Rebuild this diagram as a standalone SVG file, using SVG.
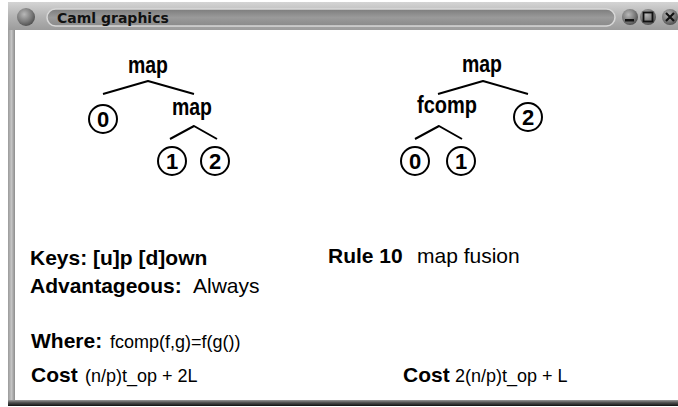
<svg xmlns="http://www.w3.org/2000/svg" width="678" height="407" viewBox="0 0 678 407">
  <style>
    .lbl { font-family: "Liberation Sans", Arial, sans-serif; font-weight: bold; font-size: 24px; fill: #000; text-anchor: middle; }
    .num { font-family: "Liberation Sans", Arial, sans-serif; font-weight: bold; font-size: 22px; fill: #000; text-anchor: middle; }
    .ring { fill: #fff; stroke: #000; stroke-width: 2; }
    .edge { fill: none; stroke: #000; stroke-width: 2; stroke-linejoin: round; }
    .b { font-family: "Liberation Sans", Arial, sans-serif; font-weight: bold; font-size: 21px; fill: #000; }
    .r { font-family: "Liberation Sans", Arial, sans-serif; font-size: 21px; fill: #000; }
    .s { font-family: "Liberation Sans", Arial, sans-serif; font-size: 18px; fill: #000; }
    .title { font-family: "DejaVu Sans", "Liberation Sans", sans-serif; font-weight: bold; font-size: 14px; fill: #111; }
  </style>
  <defs>
    <linearGradient id="barGrad" x1="0" y1="0" x2="0" y2="1">
      <stop offset="0" stop-color="#d4d4d4"/>
      <stop offset="0.5" stop-color="#b4b4b4"/>
      <stop offset="1" stop-color="#9c9c9c"/>
    </linearGradient>
    <linearGradient id="pillGrad" x1="0" y1="0" x2="0" y2="1">
      <stop offset="0" stop-color="#7c7c7c"/>
      <stop offset="0.5" stop-color="#9a9a9a"/>
      <stop offset="1" stop-color="#8a8a8a"/>
    </linearGradient>
    <linearGradient id="sideGrad" x1="0" y1="0" x2="1" y2="0">
      <stop offset="0" stop-color="#9a9a9a"/>
      <stop offset="0.5" stop-color="#c4c4c4"/>
      <stop offset="1" stop-color="#8c8c8c"/>
    </linearGradient>
    <linearGradient id="footGrad" x1="0" y1="0" x2="0" y2="1">
      <stop offset="0" stop-color="#9a9a9a"/>
      <stop offset="0.4" stop-color="#555"/>
      <stop offset="1" stop-color="#111"/>
    </linearGradient>
    <radialGradient id="knob" cx="0.4" cy="0.35" r="0.7">
      <stop offset="0" stop-color="#b8b8b8"/>
      <stop offset="0.6" stop-color="#7a7a7a"/>
      <stop offset="1" stop-color="#4a4a4a"/>
    </radialGradient>
  </defs>

  <!-- window frame -->
  <rect x="0" y="0" width="678" height="407" fill="#fff"/>
  <g id="frame">
    <rect x="8" y="2" width="670" height="28" fill="url(#barGrad)"/>
    <rect x="8" y="30" width="7" height="371" fill="url(#sideGrad)"/>
    <rect x="8" y="400" width="670" height="6" fill="url(#footGrad)"/>
    <circle cx="26" cy="17" r="9" fill="url(#knob)"/>
    <rect x="47" y="9" width="568" height="17" rx="8.5" fill="url(#pillGrad)" stroke="#d8d8d8" stroke-width="1.5"/>
    <text class="title" x="57" y="23">Caml graphics</text>
    <circle cx="630" cy="17" r="8" fill="url(#knob)"/>
    <rect x="625" y="19" width="9" height="2.5" fill="#111"/>
    <circle cx="648" cy="17" r="8" fill="url(#knob)"/>
    <rect x="643.5" y="12.5" width="9" height="9" fill="none" stroke="#111" stroke-width="1.8"/>
    <circle cx="670" cy="17" r="8" fill="url(#knob)"/>
    <path d="M666 13 L674 21 M674 13 L666 21" stroke="#111" stroke-width="2.2"/>
  </g>

  <!-- connectors -->
  <g id="connectors">
    <path class="edge" d="M103 94 L148 81 L194 94"/>
    <path class="edge" d="M170 139 L194 126 L217 139"/>
    <path class="edge" d="M438 94 L483 81 L528 94"/>
    <path class="edge" d="M415 139 L439 126 L462 139"/>
  </g>

  <!-- left tree: map(0, map(1,2)) -->
  <g id="l-map"><text class="lbl" x="148" y="73" textLength="40" lengthAdjust="spacingAndGlyphs">map</text></g>
  <g id="l-0"><circle class="ring" cx="103" cy="119" r="14"/><text class="num" x="103" y="127">0</text></g>
  <g id="l-map2"><text class="lbl" x="192" y="115" textLength="40" lengthAdjust="spacingAndGlyphs">map</text></g>
  <g id="l-1"><circle class="ring" cx="172" cy="161" r="14"/><text class="num" x="172" y="169">1</text></g>
  <g id="l-2"><circle class="ring" cx="215" cy="161" r="14"/><text class="num" x="215" y="169">2</text></g>

  <!-- right tree: map(fcomp(0,1), 2) -->
  <g id="r-map"><text class="lbl" x="482" y="72" textLength="40" lengthAdjust="spacingAndGlyphs">map</text></g>
  <g id="r-fcomp"><text class="lbl" x="447" y="113" textLength="60" lengthAdjust="spacingAndGlyphs">fcomp</text></g>
  <g id="r-2"><circle class="ring" cx="528" cy="117" r="14"/><text class="num" x="528" y="125">2</text></g>
  <g id="r-0"><circle class="ring" cx="415" cy="161" r="14"/><text class="num" x="415" y="169">0</text></g>
  <g id="r-1"><circle class="ring" cx="461" cy="161" r="14"/><text class="num" x="461" y="169">1</text></g>

  <!-- info text -->
  <g id="info">
    <text class="b" x="30" y="265">Keys: [u]p [d]own</text>
    <text class="b" x="30" y="293">Advantageous:</text>
    <text class="r" x="193" y="293">Always</text>
    <text class="b" x="328" y="263">Rule 10</text>
    <text class="r" x="417" y="263">map fusion</text>
    <text class="b" x="31" y="348">Where:</text>
    <text class="s" x="110" y="348">fcomp(f,g)=f(g())</text>
    <text class="b" x="31" y="382">Cost</text>
    <text class="s" x="85" y="382">(n/p)t_op + 2L</text>
    <text class="b" x="403" y="382">Cost</text>
    <text class="s" x="455" y="382">2(n/p)t_op + L</text>
  </g>
</svg>
